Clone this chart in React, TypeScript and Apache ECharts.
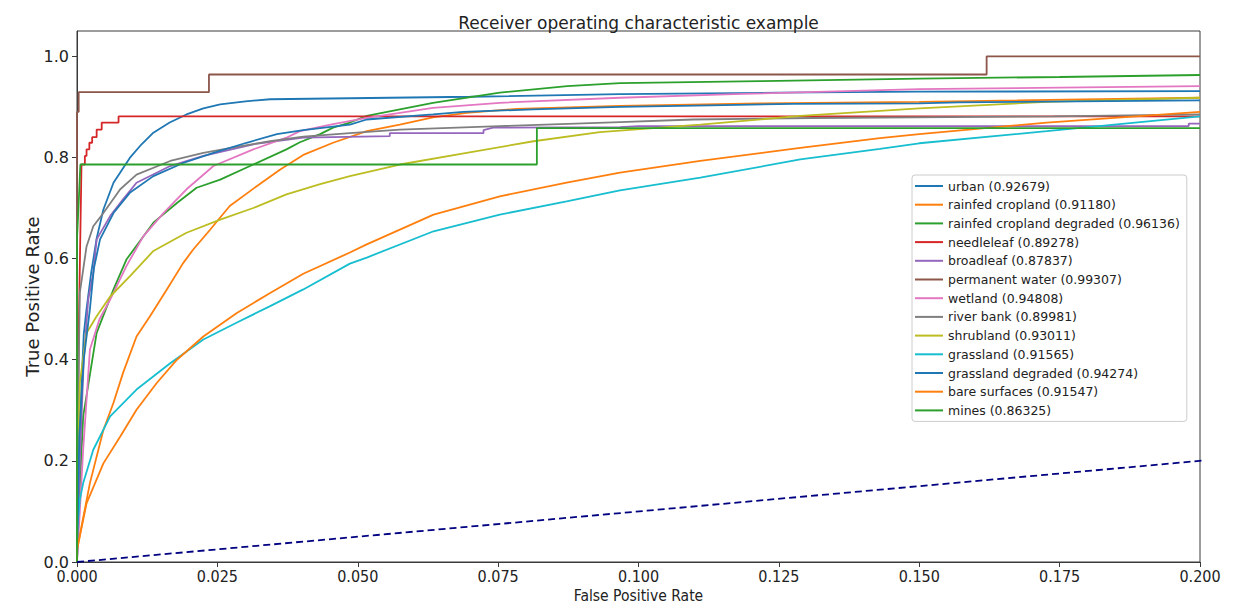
import React, { useEffect, useRef } from "react";
import * as echarts from "echarts";

// ---- data ----
const X_TICKS = [0, 0.025, 0.05, 0.075, 0.1, 0.125, 0.15, 0.175, 0.2];
const Y_TICKS = [0, 0.2, 0.4, 0.6, 0.8, 1.0];

const CLASS_NAMES = [
  "urban (0.92679)",
  "rainfed cropland (0.91180)",
  "rainfed cropland degraded (0.96136)",
  "needleleaf (0.89278)",
  "broadleaf (0.87837)",
  "permanent water (0.99307)",
  "wetland (0.94808)",
  "river bank (0.89981)",
  "shrubland (0.93011)",
  "grassland (0.91565)",
  "grassland degraded (0.94274)",
  "bare surfaces (0.91547)",
  "mines (0.86325)",
];

const COLORS = [
  "#1f77b4", "#ff7f0e", "#2ca02c", "#d62728", "#9467bd", "#8c564b", "#e377c2",
  "#7f7f7f", "#bcbd22", "#17becf", "#1f77b4", "#ff7f0e", "#2ca02c",
];

const urban = [[0,0],[0.0003,0.2],[0.0008,0.35],[0.0012,0.45],[0.0017,0.5],[0.0025,0.57],[0.0035,0.64],[0.0047,0.697],[0.0065,0.75],[0.0094,0.799],[0.0115,0.826],[0.0136,0.849],[0.0165,0.869],[0.0195,0.885],[0.0225,0.897],[0.0255,0.905],[0.03,0.911],[0.0344,0.915],[0.0486,0.917],[0.07,0.92],[0.0967,0.925],[0.125,0.928],[0.15,0.93],[0.2,0.931]];
const rainfedCropland = [[0,0],[0,0.024],[0.0023,0.156],[0.0047,0.261],[0.0065,0.315],[0.0082,0.374],[0.0106,0.446],[0.013,0.486],[0.016,0.539],[0.0189,0.591],[0.0207,0.618],[0.0237,0.657],[0.0272,0.704],[0.032,0.743],[0.0362,0.776],[0.0403,0.805],[0.0456,0.829],[0.0516,0.852],[0.0575,0.865],[0.0634,0.879],[0.0694,0.888],[0.0783,0.896],[0.0967,0.902],[0.1216,0.907],[0.15,0.91],[0.2,0.918]];
const rainfedCroplandDegraded = [[0,0],[0.0003,0.1],[0.0011,0.288],[0.0035,0.453],[0.0065,0.539],[0.0088,0.598],[0.0136,0.671],[0.0178,0.71],[0.0213,0.74],[0.0255,0.756],[0.0314,0.786],[0.0373,0.816],[0.0397,0.83],[0.0433,0.846],[0.0456,0.859],[0.0486,0.869],[0.0516,0.882],[0.0634,0.908],[0.0753,0.928],[0.0873,0.941],[0.0967,0.947],[0.1216,0.951],[0.15,0.956],[0.175,0.959],[0.2,0.963]];
const needleleaf = [[0,0],[0.0003,0.45],[0.0008,0.786],[0.0014,0.786],[0.0014,0.803],[0.0017,0.803],[0.0017,0.816],[0.0022,0.816],[0.0022,0.829],[0.0027,0.829],[0.0027,0.84],[0.0035,0.84],[0.0035,0.855],[0.0044,0.855],[0.0044,0.869],[0.0074,0.869],[0.0074,0.881],[0.2,0.881]];
const broadleaf = [[0,0],[0.0005,0.2],[0.0012,0.4],[0.002,0.519],[0.0029,0.572],[0.0035,0.638],[0.0059,0.684],[0.0082,0.717],[0.0106,0.75],[0.0166,0.783],[0.0225,0.803],[0.0314,0.826],[0.0403,0.839],[0.0557,0.842],[0.0557,0.848],[0.0724,0.848],[0.0724,0.854],[0.0741,0.859],[0.0967,0.86],[0.1,0.862],[0.198,0.862],[0.198,0.867],[0.2,0.867]];
const permanentWater = [[0,0],[0,0.89],[0.0003,0.89],[0.0003,0.929],[0.0235,0.929],[0.0235,0.964],[0.162,0.964],[0.162,1.0],[0.2,1.0]];
const wetland = [[0,0],[0.0005,0.1],[0.0011,0.222],[0.0023,0.42],[0.004,0.48],[0.0059,0.519],[0.0088,0.585],[0.0118,0.644],[0.0154,0.69],[0.0195,0.737],[0.0243,0.783],[0.0314,0.816],[0.0373,0.839],[0.0397,0.852],[0.0456,0.866],[0.0516,0.878],[0.0634,0.898],[0.0753,0.908],[0.0967,0.918],[0.117,0.925],[0.15,0.935],[0.175,0.938],[0.2,0.941]];
const riverBank = [[0,0],[0.0002,0.3],[0.0005,0.532],[0.0017,0.624],[0.0029,0.664],[0.0047,0.69],[0.0077,0.737],[0.0106,0.766],[0.0166,0.793],[0.0225,0.809],[0.0284,0.821],[0.0344,0.832],[0.0403,0.841],[0.0486,0.848],[0.0575,0.855],[0.0753,0.862],[0.0967,0.87],[0.1097,0.875],[0.131,0.878],[0.174,0.881],[0.2,0.885]];
const shrubland = [[0,0],[0.0002,0.2],[0.0005,0.354],[0.0017,0.453],[0.0035,0.486],[0.0059,0.525],[0.0094,0.565],[0.0136,0.615],[0.0195,0.651],[0.0255,0.677],[0.0314,0.7],[0.0373,0.727],[0.0433,0.747],[0.0486,0.763],[0.0575,0.786],[0.0694,0.809],[0.0813,0.832],[0.0931,0.85],[0.111,0.865],[0.1288,0.882],[0.143,0.892],[0.15,0.897],[0.1727,0.91],[0.2,0.918]];
const grassland = [[0,0],[0,0.057],[0.0005,0.123],[0.0011,0.156],[0.0029,0.222],[0.0059,0.288],[0.0106,0.341],[0.0166,0.393],[0.0225,0.44],[0.0284,0.473],[0.0344,0.506],[0.0403,0.539],[0.0486,0.59],[0.0516,0.602],[0.0635,0.654],[0.0753,0.687],[0.0872,0.713],[0.0967,0.735],[0.111,0.76],[0.1288,0.796],[0.143,0.817],[0.15,0.828],[0.1727,0.852],[0.2,0.881]];
const grasslandDegraded = [[0,0],[0.0004,0.25],[0.0012,0.4],[0.0023,0.5],[0.003,0.58],[0.0041,0.638],[0.0065,0.69],[0.0094,0.73],[0.0136,0.763],[0.0189,0.789],[0.0243,0.809],[0.0302,0.829],[0.0356,0.846],[0.0403,0.854],[0.0486,0.865],[0.0516,0.875],[0.0634,0.885],[0.0688,0.89],[0.0812,0.895],[0.0967,0.9],[0.1127,0.903],[0.1275,0.906],[0.15,0.907],[0.157,0.909],[0.2,0.913]];
const bareSurfaces = [[0,0],[0,0.024],[0.0017,0.116],[0.0047,0.195],[0.0077,0.248],[0.0106,0.301],[0.0142,0.354],[0.0178,0.4],[0.0225,0.446],[0.0284,0.492],[0.0344,0.532],[0.0403,0.57],[0.0486,0.612],[0.0516,0.628],[0.0635,0.687],[0.0753,0.723],[0.0872,0.75],[0.0967,0.77],[0.111,0.793],[0.1288,0.819],[0.143,0.838],[0.15,0.846],[0.1727,0.869],[0.2,0.89]];
const mines = [[0,0],[0,0.64],[0.0003,0.71],[0.0006,0.786],[0.0819,0.786],[0.0819,0.858],[0.2,0.858]];

const CURVES = [
  urban, rainfedCropland, rainfedCroplandDegraded, needleleaf, broadleaf,
  permanentWater, wetland, riverBank, shrubland, grassland, grasslandDegraded,
  bareSurfaces, mines,
];

const CHANCE = [[0, 0], [1, 1]];

const TITLE = "Receiver operating characteristic example";
const X_NAME = "False Positive Rate";
const Y_NAME = "True Positive Rate";

export default function App() {
  const ref = useRef<HTMLDivElement>(null);

  useEffect(() => {
    if (!ref.current) return;
    const chart = echarts.init(ref.current, undefined, { renderer: "svg" });
    const axisColor = "#3a3a3a";
    const textColor = "#222";
    const narrow = "'Liberation Sans Narrow', 'DejaVu Sans Condensed', sans-serif";

    const series: any[] = CURVES.map((data, i) => ({
      name: CLASS_NAMES[i],
      type: "line",
      data,
      showSymbol: false,
      symbol: "none",
      clip: true,
      lineStyle: { color: COLORS[i], width: 1.8 },
      itemStyle: { color: COLORS[i] },
      emphasis: { disabled: true },
    }));
    series.push({
      name: "chance",
      type: "line",
      data: CHANCE,
      showSymbol: false,
      symbol: "none",
      clip: true,
      lineStyle: { color: "#000080", width: 1.8, type: [7, 4] },
      itemStyle: { color: "#000080" },
      emphasis: { disabled: true },
    });

    chart.setOption({
      animation: false,
      backgroundColor: "#ffffff",
      title: {
        text: TITLE,
        left: 633.5,
        top: 9,
        textAlign: "center",
        textStyle: {
          fontFamily: "DejaVu Sans",
          fontSize: 17,
          fontWeight: "normal",
          color: textColor,
        },
      },
      grid: {
        left: 77,
        right: 43,
        top: 31,
        bottom: 51,
        show: true,
        borderColor: axisColor,
        borderWidth: 1,
        backgroundColor: "transparent",
        outerBoundsMode: "none",
        containLabel: false,
      },
      legend: {
        data: CLASS_NAMES,
        orient: "vertical",
        left: 912,
        top: 175,
        icon: "rect",
        itemWidth: 28,
        itemHeight: 2,
        itemGap: 4.7,
        itemTextGap: 10,
        padding: [4, 7, 4, 3],
        backgroundColor: "rgba(255,255,255,0.85)",
        borderColor: "#cccccc",
        borderWidth: 1,
        borderRadius: 3,
        selectedMode: false,
        textStyle: {
          fontFamily: "DejaVu Sans",
          fontSize: 12.5,
          lineHeight: 14,
          color: textColor,
        },
      },
      xAxis: {
        type: "value",
        min: 0,
        max: 0.2,
        interval: 0.025,
        name: X_NAME,
        nameLocation: "middle",
        nameGap: 26,
        nameMoveOverlap: false,
        nameTextStyle: { fontFamily: narrow, fontSize: 15.5, color: textColor },
        axisLine: { show: true, lineStyle: { color: axisColor, width: 1 } },
        axisTick: {
          show: true,
          inside: false,
          length: 5,
          lineStyle: { color: axisColor, width: 1 },
          customValues: X_TICKS,
        },
        splitLine: { show: false },
        axisLabel: {
          customValues: X_TICKS,
          formatter: (v: number) => v.toFixed(3),
          fontFamily: narrow,
          fontSize: 16,
          color: textColor,
          margin: 6,
        },
      },
      yAxis: {
        type: "value",
        min: 0,
        max: 1.05,
        interval: 0.2,
        name: Y_NAME,
        nameLocation: "middle",
        nameGap: 36,
        nameMoveOverlap: false,
        nameTextStyle: { fontFamily: "DejaVu Sans", fontSize: 18, color: textColor },
        axisLine: { show: true, lineStyle: { color: axisColor, width: 1 } },
        axisTick: {
          show: true,
          inside: false,
          length: 5,
          lineStyle: { color: axisColor, width: 1 },
          customValues: Y_TICKS,
        },
        splitLine: { show: false },
        axisLabel: {
          customValues: Y_TICKS,
          formatter: (v: number) => v.toFixed(1),
          fontFamily: "DejaVu Sans",
          fontSize: 16,
          color: textColor,
          margin: 8,
        },
      },
      series,
    });

    return () => chart.dispose();
  }, []);

  return (
    <div
      ref={ref}
      style={{ position: "fixed", left: 0, top: 0, width: 1243, height: 613 }}
    />
  );
}
